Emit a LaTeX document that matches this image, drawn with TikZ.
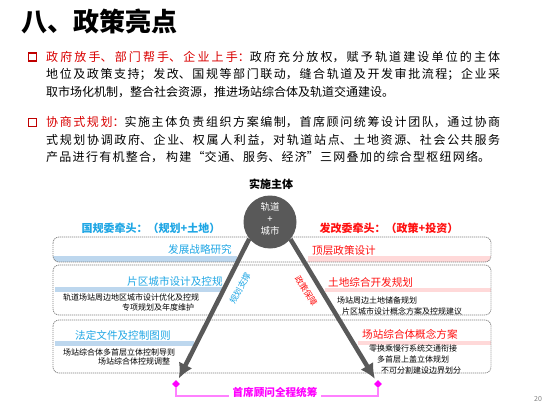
\documentclass[tikz,border=0pt]{standalone}
\usepackage{fontspec}
\setmainfont{Noto Sans CJK SC}
\usetikzlibrary{arrows.meta,shapes.geometric}
\XeTeXlinebreaklocale "zh"
\XeTeXlinebreakskip=0pt plus 8pt
\definecolor{leadred}{HTML}{D80000}
\definecolor{bulletred}{HTML}{C00000}
\definecolor{headred}{HTML}{FF1010}
\definecolor{skyblue}{HTML}{1FA6E4}
\definecolor{bandblue}{HTML}{BDD7EE}
\definecolor{bandpink}{HTML}{FFD9D9}
\definecolor{dgray}{HTML}{595959}
\definecolor{mag}{HTML}{FF00FF}
\definecolor{maglight}{HTML}{FF80FF}
\newcommand{\jline}[2]{\parbox{#1}{\parfillskip=0pt #2}}
\begin{document}
\begin{tikzpicture}[x=1pt,y=-1pt,
  body/.style={font=\fontsize{12}{14}\selectfont, inner sep=0pt, anchor=west},
  bsq/.style={draw=bulletred, line width=1.6pt, minimum size=8pt, inner sep=0pt},
  hd/.style={font=\fontsize{10.6}{12}\selectfont, inner sep=0pt, anchor=west},
  subt/.style={font=\fontsize{8}{9}\selectfont, inner sep=0pt, anchor=west},
  boxline/.style={draw=gray, dash pattern=on 1.2pt off 0.8pt, line width=0.7pt, rounded corners=6pt},
  bigarrow/.style={draw=dgray, line width=4.5pt, -{Latex[length=15pt,width=15pt]}, shorten >=3pt},
  dia/.style={diamond, fill=mag, inner sep=0pt, minimum size=8pt},
  magline/.style={draw=maglight, line width=1.4pt}
]
\useasboundingbox (0,0) rectangle (545,406);
% title
\node[anchor=west, inner sep=0pt, font=\fontsize{26}{30}\selectfont\bfseries] (title) at (21,22) {八、政策亮点};
% bullet 1
\node[bsq] (sq1) at (32.5,57) {};
\node[body] (b1l1) at (46,57) {\jline{454pt}{\textcolor{leadred}{政府放手、部门帮手、企业上手：}政府充分放权，赋予轨道建设单位的主体}};
\node[body] (b1l2) at (46,74.5) {\jline{454pt}{地位及政策支持；发改、国规等部门联动，缝合轨道及开发审批流程；企业采}};
\node[body] (b1l3) at (46,92) {取市场化机制，整合社会资源，推进场站综合体及轨道交通建设。};
% bullet 2
\node[bsq] (sq2) at (32.5,122.5) {};
\node[body] (b2l1) at (46,122.5) {\jline{454pt}{\textcolor{leadred}{协商式规划：}实施主体负责组织方案编制，首席顾问统筹设计团队，通过协商}};
\node[body] (b2l2) at (46,140) {\jline{454pt}{式规划协调政府、企业、权属人利益，对轨道站点、土地资源、社会公共服务}};
\node[body] (b2l3) at (46,157.5) {\jline{444pt}{产品进行有机整合， 构建“交通、服务、经济”三网叠加的综合型枢纽网络。}};
% bands (clipped to boxes)
\begin{scope}
  \clip[rounded corners=6pt] (53,237) rectangle (491,262);
  \fill[bandblue] (53,256) rectangle (237,262);
  \fill[bandpink] (308,256) rectangle (491,262);
\end{scope}
\fill[bandblue] (55,287) rectangle (222,292);
\fill[bandpink] (325,288) rectangle (491,292);
\fill[bandblue] (55,341) rectangle (194,346);
\fill[bandpink] (358,341) rectangle (491,345);
% boxes
\draw[boxline] (53,237) rectangle (491,262);
\draw[boxline] (53,265) rectangle (491,315);
\draw[boxline] (53,320) rectangle (491,373);
% headers
\node[font=\fontsize{11}{13}\selectfont\bfseries, inner sep=0pt] (top) at (271,184) {实施主体};
\node[font=\fontsize{11}{13}\selectfont\bfseries, text=skyblue, inner sep=0pt] (lhead) at (151,228) {国规委牵头：（规划+土地）};
\node[font=\fontsize{11}{13}\selectfont\bfseries, text=headred, inner sep=0pt] (rhead) at (389,228) {发改委牵头：（政策+投资）};
% row 1
\node[hd, text=skyblue] (r1l) at (168,249.5) {发展战略研究};
\node[hd, text=headred] (r1r) at (312,250) {顶层政策设计};
% row 2
\node[hd, text=skyblue] (r2l) at (127,281) {片区城市设计及控规};
\node[subt] (r2ls1) at (63,297) {轨道场站周边地区城市设计优化及控规};
\node[subt] (r2ls2) at (122,307) {专项规划及年度维护};
\node[hd, text=headred] (r2r) at (328,282.5) {土地综合开发规划};
\node[subt] (r2rs1) at (337,300) {场站周边土地储备规划};
\node[subt] (r2rs2) at (342,311) {片区城市设计概念方案及控规建议};
% row 3
\node[hd, text=skyblue] (r3l) at (75,335) {法定文件及控制图则};
\node[subt] (r3ls1) at (63,352) {场站综合体多首层立体控制导则};
\node[subt] (r3ls2) at (98,361.5) {场站综合体控规调整};
\node[hd, text=headred] (r3r) at (362,334) {场站综合体概念方案};
\node[subt] (r3rs1) at (369,348.5) {零换乘慢行系统交通衔接};
\node[subt] (r3rs2) at (377,359) {多首层上盖立体规划};
\node[subt] (r3rs3) at (381,370) {不可分割建设边界划分};
% circle
\node[circle, fill=dgray, minimum size=53pt, inner sep=0pt] (circ) at (270,222) {};
\node[text=white, font=\fontsize{9.5}{12}\selectfont, align=center, inner sep=0pt] (ctext) at (270,219) {轨道\\+\\城市};
% diamonds
\node[dia] (ldia) at (176,384) {};
\node[dia] (rdia) at (378,384) {};
% big arrows
\draw[bigarrow] (circ.219) -- (ldia);
\draw[bigarrow] (circ.320) -- (rdia);
% diagonal labels
\node[text=skyblue, font=\fontsize{8.5}{10}\selectfont, rotate=61, inner sep=0pt] (llab) at (240,288) {规划支撑};
\node[text=headred, font=\fontsize{8.5}{10}\selectfont, rotate=-58, inner sep=0pt] (rlab) at (306,291) {政策保障};
% bottom coordination
\node[text=mag, font=\fontsize{10.6}{12}\selectfont\bfseries, anchor=base, inner xsep=3pt, inner ysep=0pt] (coord) at (275,396) {首席顾问全程统筹};
\draw[magline] (ldia) |- (coord.base west);
\draw[magline] (rdia) |- (coord.base east);
% page number
\node[text=gray, font=\fontsize{7}{8}\selectfont, inner sep=0pt] (pnum) at (538,399) {20};
\end{tikzpicture}
\end{document}
